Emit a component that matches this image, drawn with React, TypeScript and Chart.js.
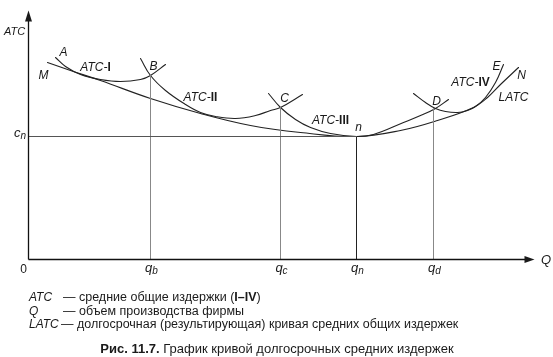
import React, { useEffect, useRef } from "react";
import { Chart, registerables } from "chart.js";
Chart.register(...registerables);

// Data in chart units: x = output Q (0..512), y = average total cost (0..247)
const latcX = [19, 42, 72, 122, 172, 222, 272, 328, 372, 409, 445, 459, 472, 490];
const latcY = [197, 189, 179, 161, 146, 134, 127, 123, 129, 139, 152, 162, 175, 192];
const atc1X = [27, 37, 52, 72, 92, 112, 122, 137];
const atc1Y = [202, 193, 185, 180, 178, 180, 184, 195];
const atc2X = [112, 122, 137, 157, 172, 187, 207, 227, 242, 252, 274];
const atc2Y = [201, 184, 169, 155, 147, 143, 141, 144, 149, 152, 165];
const atc3X = [240, 252, 267, 282, 302, 328, 345, 375, 392, 407, 420];
const atc3Y = [166, 152, 140, 132, 126, 123, 125, 137, 144, 151, 160];
const atc4X = [385, 397, 407, 417, 429, 439, 447, 457, 467, 475];
const atc4Y = [166, 157, 151, 148, 147, 149, 153, 162, 177, 195];
const dropX = [122, 252, 328, 405]; // q_b, q_c, q_n, q_d
const dropY = [184, 152, 123, 151]; // B, C, n, D
const qLabels = ["b", "c", "n", "d"];
const cN = 123;

const toPts = (xs: number[], ys: number[]) => xs.map((x, i) => ({ x, y: ys[i] }));

type Run = { t: string; s?: string; size?: number; dy?: number };
const FAM = '"Liberation Sans", Arial, sans-serif';

function drawRuns(ctx: CanvasRenderingContext2D, runs: Run[], x: number, y: number, align: "left" | "center" | "right" = "left", base = 12) {
  let w = 0;
  const fonts = runs.map((r) => `${r.s || ""} ${r.size || base}px ${FAM}`);
  runs.forEach((r, i) => { ctx.font = fonts[i]; w += ctx.measureText(r.t).width; });
  let cx = align === "left" ? x : align === "center" ? x - w / 2 : x - w;
  ctx.textBaseline = "middle";
  ctx.textAlign = "left";
  runs.forEach((r, i) => {
    ctx.font = fonts[i];
    ctx.fillText(r.t, cx, y + (r.dy || 0));
    cx += ctx.measureText(r.t).width;
  });
}

const labelsPlugin = {
  id: "labels",
  afterDatasetsDraw(chart: any) {
    const ctx: CanvasRenderingContext2D = chart.ctx;
    const xs = chart.scales.x, ys = chart.scales.y;
    const X = (v: number) => xs.getPixelForValue(v);
    const Y = (v: number) => ys.getPixelForValue(v);
    const x0 = X(0), y0 = Y(0);
    const tipX = X(512) - 6;
    const tipY = Y(247);
    ctx.save();
    ctx.fillStyle = "#1a1a1a";
    ctx.strokeStyle = "#111";
    ctx.lineWidth = 1.3;
    // axes
    ctx.beginPath();
    ctx.moveTo(x0, y0); ctx.lineTo(x0, tipY + 6);
    ctx.moveTo(x0, y0); ctx.lineTo(tipX - 6, y0);
    ctx.stroke();
    ctx.beginPath();
    ctx.moveTo(x0, tipY - 2); ctx.lineTo(x0 - 3.5, tipY + 9); ctx.lineTo(x0 + 3.5, tipY + 9); ctx.closePath(); ctx.fill();
    ctx.beginPath();
    ctx.moveTo(tipX, y0); ctx.lineTo(tipX - 10, y0 - 3.5); ctx.lineTo(tipX - 10, y0 + 3.5); ctx.closePath(); ctx.fill();

    // axis labels
    drawRuns(ctx, [{ t: "ATC", s: "italic" }], 4, 32, "left", 11);
    drawRuns(ctx, [{ t: "c", s: "italic", size: 13 }, { t: "n", s: "italic", size: 10, dy: 3 }], 20, Y(cN) - 3, "center");
    drawRuns(ctx, [{ t: "0" }], x0 - 5, y0 + 10, "center", 12);
    drawRuns(ctx, [{ t: "Q", s: "italic" }], 546, y0 + 1, "center", 13);
    dropX.forEach((dx, i) => {
      drawRuns(ctx, [{ t: "q", s: "italic", size: 13 }, { t: qLabels[i], s: "italic", size: 10, dy: 3 }], X(dx) + 1, y0 + 9, "center");
    });

    // point and curve labels
    const L = (runs: Run[], dx: number, dy: number) => drawRuns(ctx, runs, X(dx), Y(dy), "center", 12);
    const it = (t: string): Run => ({ t, s: "italic" });
    const atc = (roman: string): Run[] => [{ t: "ATC-", s: "italic" }, { t: roman, s: "bold" }];
    L([it("A")], 35, 207);
    L([it("M")], 15, 184);
    L(atc("I"), 67, 192);
    L([it("B")], 125, 193);
    L(atc("II"), 172, 162);
    L([it("C")], 256, 161);
    L(atc("III"), 302, 139);
    L([it("n")], 330, 132);
    L([it("D")], 408, 158);
    L(atc("IV"), 442, 177);
    L([it("E")], 468, 193);
    L([it("N")], 493, 184);
    L([it("LATC")], 485, 162);

    // explanation block
    ctx.fillStyle = "#1a1a1a";
    const fs = 12.5;
    drawRuns(ctx, [it("ATC")], 29, 298, "left", 12);
    drawRuns(ctx, [{ t: "— средние общие издержки (" }, { t: "I–IV", s: "bold" }, { t: ")" }], 63, 298, "left", fs);
    drawRuns(ctx, [it("Q")], 29, 311.5, "left", 12);
    drawRuns(ctx, [{ t: "— объем производства фирмы" }], 63, 311.5, "left", fs);
    drawRuns(ctx, [it("LATC")], 29, 325, "left", 12);
    drawRuns(ctx, [{ t: "— долгосрочная (результирующая) кривая средних общих издержек" }], 61, 325, "left", fs);
    drawRuns(ctx, [{ t: "Рис. 11.7.", s: "bold" }, { t: " График кривой долгосрочных средних издержек" }], 277, 349, "center", 13);
    ctx.restore();
  },
};

export default function App() {
  const ref = useRef<HTMLCanvasElement>(null);
  useEffect(() => {
    if (!ref.current) return;
    const curve = (xs: number[], ys: number[]) => ({
      data: toPts(xs, ys),
      showLine: true,
      borderColor: "#222",
      borderWidth: 1.1,
      pointRadius: 0,
      tension: 0.4,
      fill: false,
    });
    const drops = dropX.map((dx, i) => ({
      data: [{ x: dx, y: dropY[i] }, { x: dx, y: 0 }],
      showLine: true,
      borderColor: i === 2 ? "#222" : "#888",
      borderWidth: 1,
      pointRadius: 0,
      tension: 0,
    }));
    const chart = new Chart(ref.current, {
      type: "scatter",
      data: {
        datasets: [
          { data: [{ x: 0, y: cN }, { x: dropX[2], y: cN }], showLine: true, borderColor: "#555", borderWidth: 1, pointRadius: 0, tension: 0 },
          ...drops,
          curve(latcX, latcY),
          curve(atc1X, atc1Y),
          curve(atc2X, atc2Y),
          curve(atc3X, atc3Y),
          curve(atc4X, atc4Y),
        ] as any,
      },
      options: {
        animation: false,
        responsive: false,
        layout: { padding: { left: 28.5, right: 12.5, top: 12.5, bottom: 97.5 } },
        plugins: { legend: { display: false }, tooltip: { enabled: false } },
        scales: {
          x: { type: "linear", min: 0, max: 512, display: false },
          y: { type: "linear", min: 0, max: 247, display: false },
        },
        elements: { line: { borderCapStyle: "round" } },
        clip: false as any,
      },
      plugins: [labelsPlugin],
    });
    return () => chart.destroy();
  }, []);
  return (
    <div style={{ position: "absolute", left: 0, top: 0, width: 553, height: 357, background: "#fff" }}>
      <canvas ref={ref} width={553} height={357} />
    </div>
  );
}
